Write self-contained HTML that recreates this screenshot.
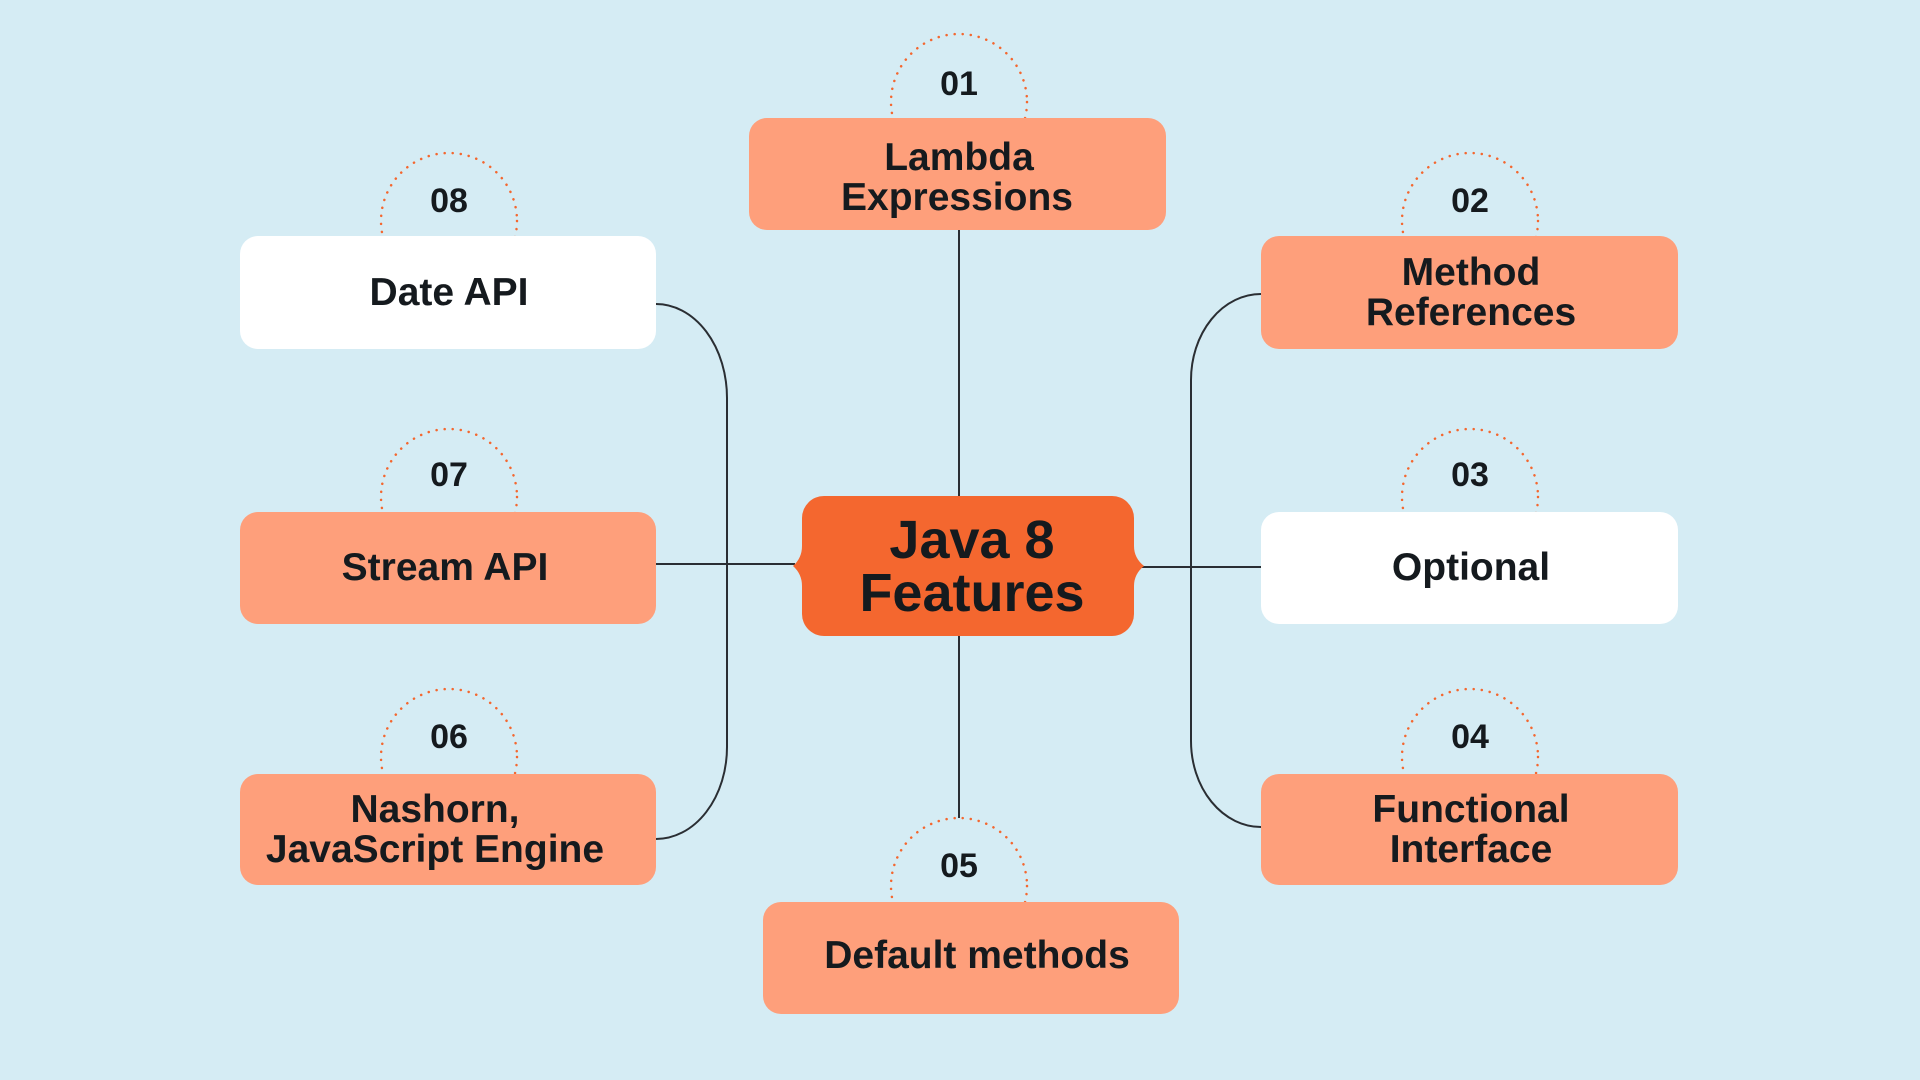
<!DOCTYPE html>
<html><head><meta charset="utf-8"><style>
html,body{margin:0;padding:0;background:#d5ecf4;}
svg{display:block}
text{font-family:"Liberation Sans",sans-serif;font-weight:bold;fill:#151a1e;text-anchor:middle}
.n{font-size:34px}
.l{font-size:39px}
</style></head><body>
<svg width="1920" height="1080" viewBox="0 0 1920 1080" xmlns="http://www.w3.org/2000/svg">
<rect width="1920" height="1080" fill="#d5ecf4"/>
<g fill="none" stroke="#2a2e33" stroke-width="2">
<line x1="959" y1="230" x2="959" y2="496"/>
<line x1="959" y1="636" x2="959" y2="818"/>
<path d="M656,304 A71,94 0 0 1 727,398 L727,747 A71,92 0 0 1 656,839"/>
<line x1="656" y1="564" x2="795" y2="564"/>
<path d="M1261,294 A70,86 0 0 0 1191,380 L1191,741 A70,86 0 0 0 1261,827"/>
<line x1="1140" y1="567" x2="1261" y2="567"/>
</g>
<g fill="none" stroke="#f4672f" stroke-width="2.5" stroke-dasharray="0.1 8" stroke-linecap="round">
<circle cx="959" cy="102" r="68"/>
<circle cx="449" cy="221" r="68"/>
<circle cx="449" cy="497" r="68"/>
<circle cx="449" cy="757" r="68"/>
<circle cx="1470" cy="221" r="68"/>
<circle cx="1470" cy="497" r="68"/>
<circle cx="1470" cy="757" r="68"/>
<circle cx="959" cy="886" r="68"/>
</g>
<g>
<rect x="749" y="118" width="417" height="112" rx="18" fill="#fe9f7b"/>
<rect x="240" y="236" width="416" height="113" rx="18" fill="#ffffff"/>
<rect x="240" y="512" width="416" height="112" rx="18" fill="#fe9f7b"/>
<rect x="240" y="774" width="416" height="111" rx="18" fill="#fe9f7b"/>
<rect x="1261" y="236" width="417" height="113" rx="18" fill="#fe9f7b"/>
<rect x="1261" y="512" width="417" height="112" rx="18" fill="#ffffff"/>
<rect x="1261" y="774" width="417" height="111" rx="18" fill="#fe9f7b"/>
<rect x="763" y="902" width="416" height="112" rx="18" fill="#fe9f7b"/>
<path d="M824,496 H1112 A22,22 0 0 1 1134,518 V546 Q1134,558 1144,566 Q1134,574 1134,586 V614 A22,22 0 0 1 1112,636 H824 A22,22 0 0 1 802,614 V586 Q802,574 793,566 Q802,558 802,546 V518 A22,22 0 0 1 824,496 Z" fill="#f4672f"/>
</g>
<text class="n" x="959" y="95">01</text>
<text class="n" x="449" y="212">08</text>
<text class="n" x="449" y="486">07</text>
<text class="n" x="449" y="748">06</text>
<text class="n" x="1470" y="212">02</text>
<text class="n" x="1470" y="486">03</text>
<text class="n" x="1470" y="748">04</text>
<text class="n" x="959" y="877">05</text>
<text class="l" x="959" y="170">Lambda</text>
<text class="l" x="957" y="210">Expressions</text>
<text class="l" x="449" y="305">Date API</text>
<text class="l" x="445" y="580">Stream API</text>
<text class="l" x="435" y="822">Nashorn,</text>
<text class="l" x="435" y="862">JavaScript Engine</text>
<text class="l" x="1471" y="285">Method</text>
<text class="l" x="1471" y="325">References</text>
<text class="l" x="1471" y="580">Optional</text>
<text class="l" x="1471" y="822">Functional</text>
<text class="l" x="1471" y="862">Interface</text>
<text class="l" x="977" y="968">Default methods</text>
<text x="972" y="558" style="font-size:54px">Java 8</text>
<text x="972" y="611" style="font-size:54px">Features</text>
</svg>
</body></html>
